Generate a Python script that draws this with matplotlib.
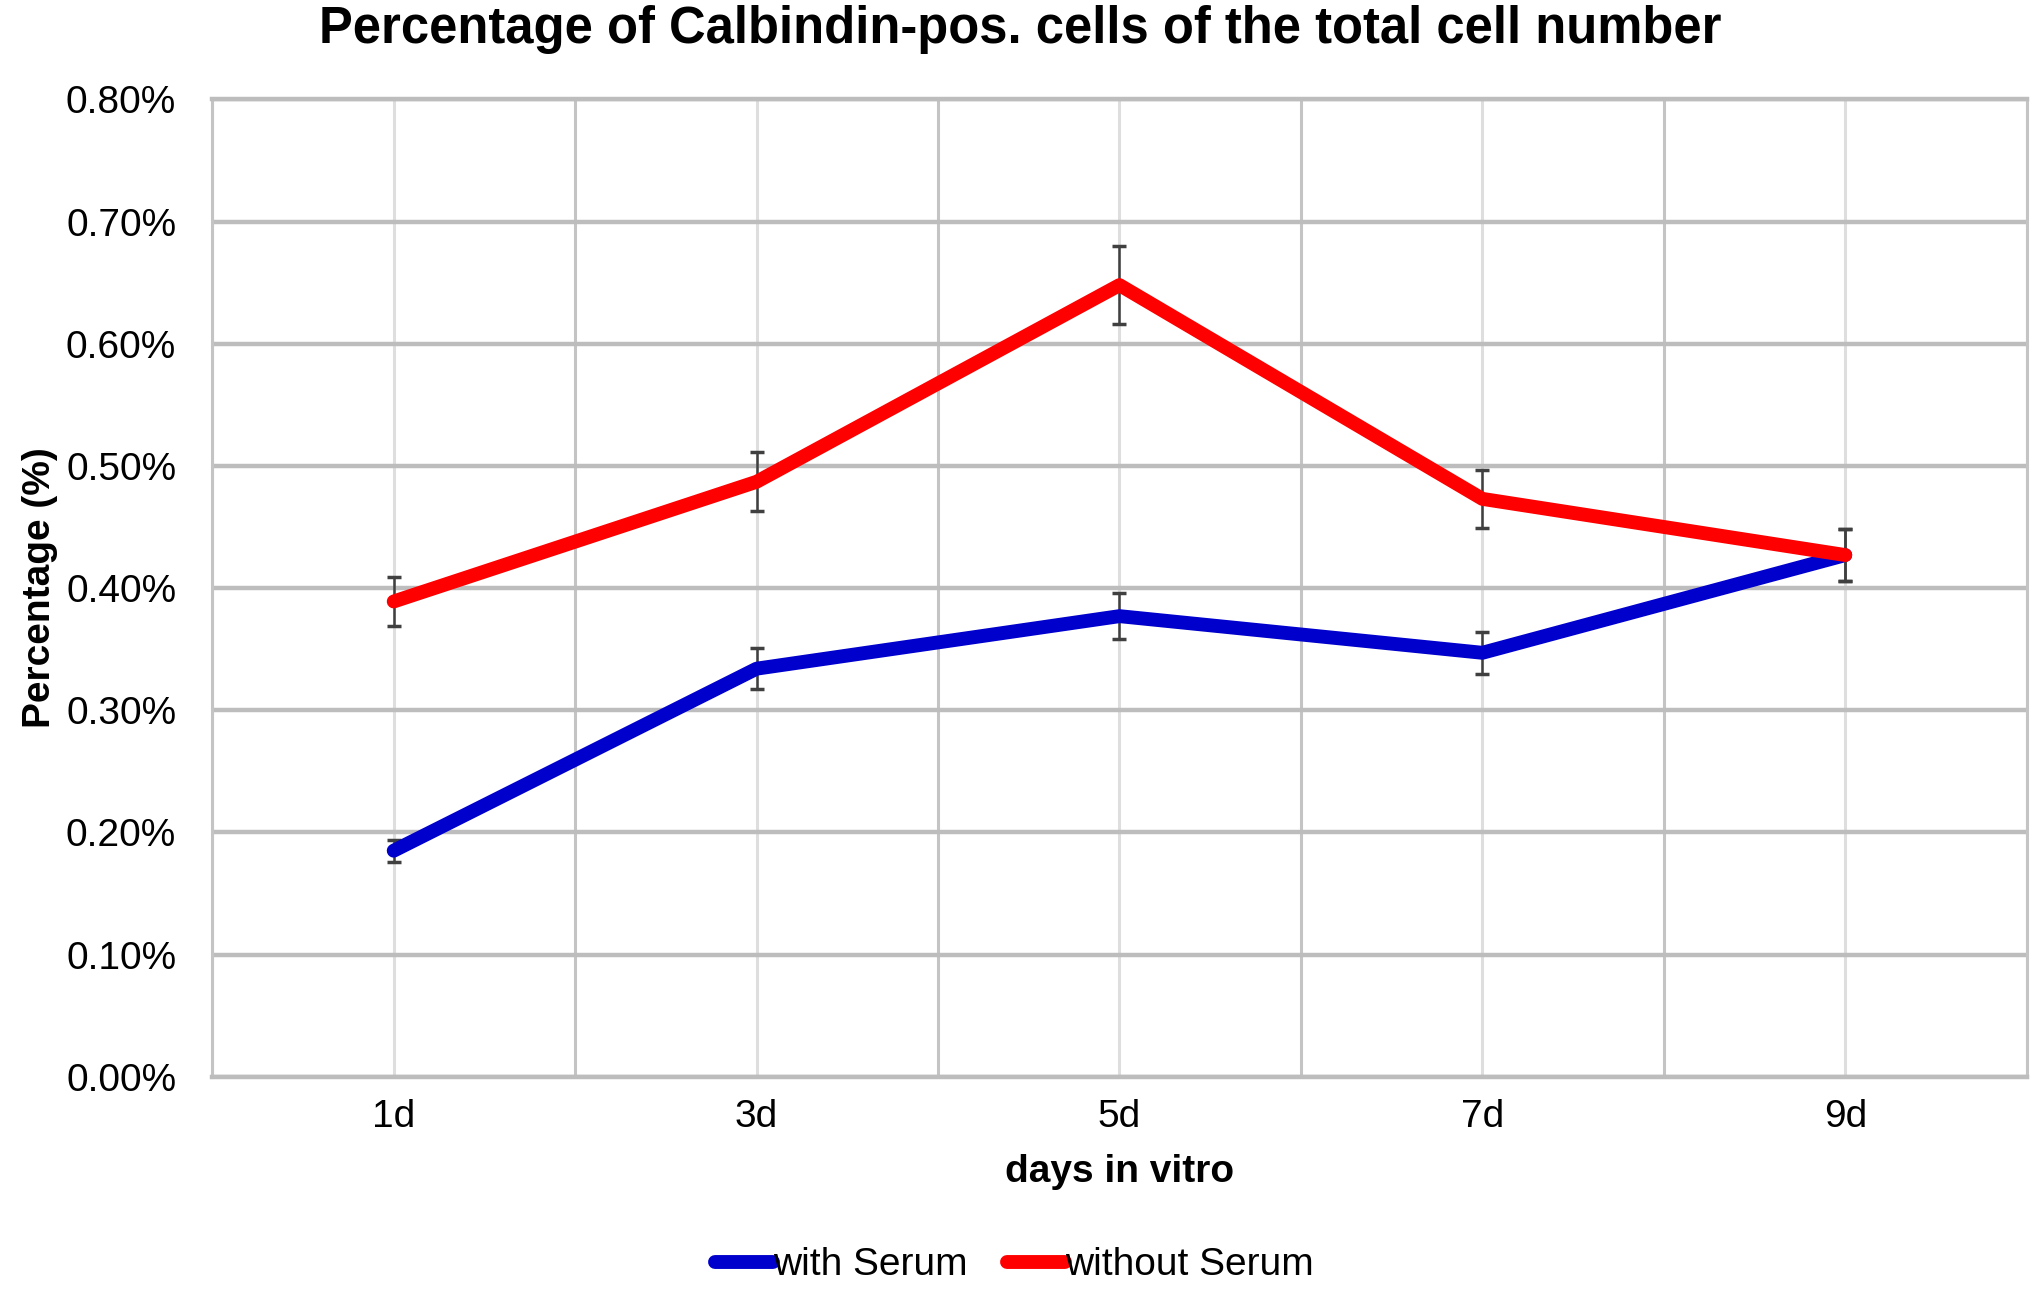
import matplotlib
matplotlib.use("Agg")
import matplotlib.pyplot as plt
from matplotlib.ticker import FuncFormatter, MultipleLocator
from matplotlib.lines import Line2D

plt.rcParams['font.family'] = ['Liberation Sans', 'DejaVu Sans']

days = [1, 3, 5, 7, 9]
day_labels = ['1d', '3d', '5d', '7d', '9d']
with_serum = [0.185, 0.334, 0.377, 0.347, 0.427]
with_serum_err = [0.009, 0.017, 0.019, 0.017, 0.021]
without_serum = [0.389, 0.487, 0.648, 0.473, 0.427]
without_serum_err = [0.020, 0.024, 0.032, 0.024, 0.021]
series_names = ['with Serum', 'without Serum']
series_colors = ['#0000cc', '#ff0000']

fig = plt.figure(figsize=(20.41, 12.91), dpi=100)
ax = fig.add_axes([0.104, 0.166, 0.889, 0.757])

ax.set_xlim(0, 10)
ax.set_ylim(0, 0.8)

ax.yaxis.set_major_locator(MultipleLocator(0.1))
ax.set_xticks(days)
ax.set_xticklabels(day_labels)
ax.xaxis.set_minor_locator(MultipleLocator(2))
ax.grid(axis='y', which='major', color='#bdbdbd', linewidth=3.2, zorder=0)
ax.grid(axis='x', which='minor', color='#c4c4c4', linewidth=2.2, zorder=0)
ax.grid(axis='x', which='major', color='#dedede', linewidth=2.2, zorder=0)
for s in ax.spines.values():
    s.set_color('#c4c4c4')
    s.set_linewidth(2.2)
ax.spines['bottom'].set_color('#bdbdbd')
ax.spines['bottom'].set_linewidth(3.2)
ax.spines['top'].set_color('#bdbdbd')
ax.spines['top'].set_linewidth(3.2)
ax.tick_params(which='both', length=0)
ax.tick_params(axis='y', labelsize=28, pad=26)
ax.tick_params(axis='x', labelsize=28, pad=16)
ax.yaxis.set_major_formatter(FuncFormatter(lambda v, p: f"{v:.2f}%"))

for vals, errs, col, name, z in [(with_serum, with_serum_err, series_colors[0], series_names[0], 3),
                                 (without_serum, without_serum_err, series_colors[1], series_names[1], 4)]:
    ax.errorbar(days, vals, yerr=errs, color=col, linewidth=10,
                ecolor='#404040', elinewidth=1.8, capsize=5, capthick=2.5,
                solid_capstyle='round', solid_joinstyle='round', label=name, zorder=z)

fig.suptitle('Percentage of Calbindin-pos. cells of the total cell number',
             fontsize=36.5, fontweight='bold', x=0.5, y=0.977, va='center')
ax.set_xlabel('days in vitro', fontsize=28, fontweight='bold', labelpad=14)
ax.set_ylabel('Percentage (%)', fontsize=28, fontweight='bold', labelpad=6)

handles = [Line2D([], [], color=c, linewidth=10, solid_capstyle='round') for c in series_colors]
fig.legend(handles, series_names, loc='center', bbox_to_anchor=(0.497, 0.02), ncol=2,
           frameon=False, fontsize=28, handlelength=1.5, handletextpad=0.0,
           columnspacing=1.0)

fig.savefig('out.png', dpi=100)
